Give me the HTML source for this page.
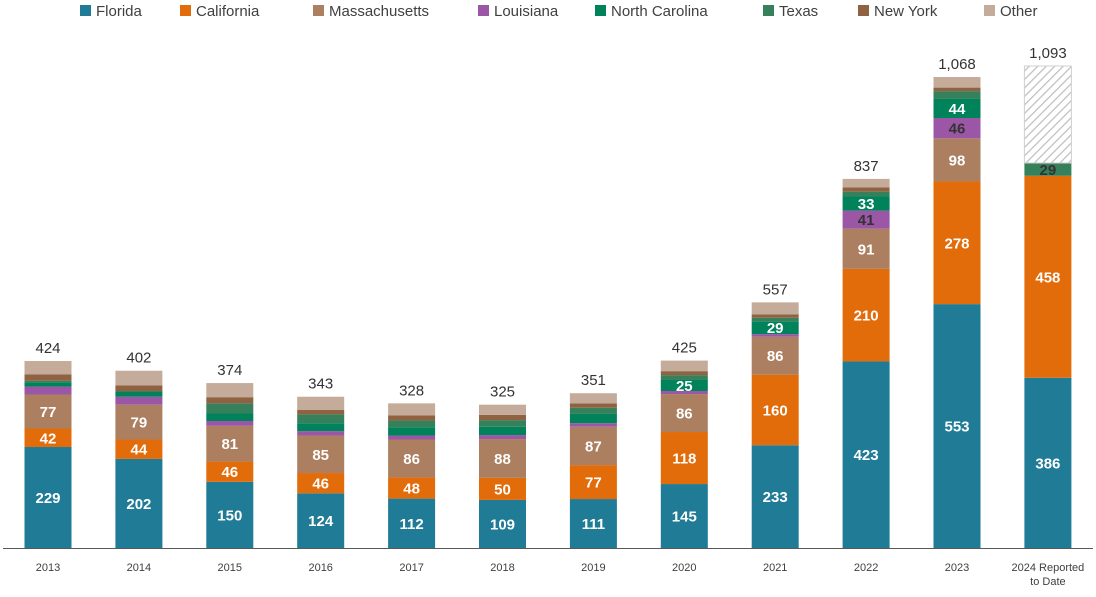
<!DOCTYPE html>
<html><head><meta charset="utf-8"><style>
body{margin:0;background:#fff;width:1096px;height:592px;overflow:hidden;font-family:"Liberation Sans",Arial,sans-serif}
</style></head><body>
<svg id="chart" width="1096" height="592" xmlns="http://www.w3.org/2000/svg">
<defs><pattern id="hatch" patternUnits="userSpaceOnUse" width="6" height="6" patternTransform="rotate(45)"><rect width="6" height="6" fill="#fff"/><line x1="0" y1="0" x2="0" y2="6" stroke="#bfbfbf" stroke-width="2.5"/></pattern></defs>
<g id="legend"></g>
<g id="bars"></g>
<line x1="3" y1="548.5" x2="1093" y2="548.5" stroke="#595959" stroke-width="1"/>
<g id="xlabels"></g>
</svg>
<script>
const categories=["2013","2014","2015","2016","2017","2018","2019","2020","2021","2022","2023","2024 Reported|to Date"];
const seriesNames=["Florida","California","Massachusetts","Louisiana","North Carolina","Texas","New York","Other"];
const florida=[229,202,150,124,112,109,111,145,233,423,553,386];
const california=[42,44,46,46,48,50,77,118,160,210,278,458];
const massachusetts=[77,79,81,85,86,88,87,86,86,91,98,0];
const louisiana=[18,18,11,10,9,9,8,7,6,41,46,0];
const northCarolina=[10,12,17,18,19,19,21,25,29,33,44,0];
const texas=[3,0,23,20,15,15,14,11,8,10,17,29];
const newYork=[15,14,14,10,12,12,10,9,8,10,8,0];
const other=[30,33,32,30,27,23,23,24,27,19,24,0];
const totals=[424,402,374,343,328,325,351,425,557,837,1068,1093];
const series=[florida,california,massachusetts,louisiana,northCarolina,texas,newYork,other];
const colors=["#1f7b96","#e36c0a","#ab7f5f","#9b57a5","#00825a","#36805b","#8f6341","#c5ac9a"];
const labelColors=["#fff","#fff","#fff","#333","#fff","#333","#fff","#fff"];
const NS="http://www.w3.org/2000/svg";
const baseY=548, k=0.441, x0=48, step=90.9, bw=47;
const yScale=v=>baseY-v*k;
const xScale=i=>x0+i*step;
function mk(tag,attrs,parent){const e=document.createElementNS(NS,tag);for(const a in attrs)e.setAttribute(a,attrs[a]);parent.appendChild(e);return e;}
const bars=document.getElementById('bars');
categories.forEach((c,i)=>{
  let cum=0;
  series.forEach((s,j)=>{
    const v=s[i]; if(!v)return;
    const y1=yScale(cum+v), y0=yScale(cum);
    const r=mk('rect',{x:xScale(i)-bw/2,y:y1,width:bw,height:y0-y1,fill:colors[j]},bars);
    
    
    if(v>=25 && j<7){
      const t=mk('text',{x:xScale(i),y:(y0+y1)/2+5.5,'text-anchor':'middle','font-size':15,'font-weight':'bold',fill:labelColors[j]},bars);
      t.textContent=v;
      
      
    }
    cum+=v;
  });
  if(cum<totals[i]){
    const h=mk('rect',{x:xScale(i)-bw/2,y:yScale(totals[i]),width:bw,height:yScale(cum)-yScale(totals[i]),fill:'url(#hatch)',stroke:'#d0d0d0','stroke-width':1},bars);
    
    
  }
  const t=mk('text',{x:xScale(i),y:yScale(totals[i])-8,'text-anchor':'middle','font-size':15,fill:'#333'},bars);
  t.textContent=totals[i].toLocaleString('en-US');
  
  
});
const xl=document.getElementById('xlabels');
categories.forEach((c,i)=>{
  c.split('|').forEach((ln,li)=>{
    const t=mk('text',{x:xScale(i),y:571+li*14,'text-anchor':'middle','font-size':11,fill:'#404040'},xl);
    t.textContent=ln;
    
    
  });
});
const lg=document.getElementById('legend');
const lx=[80,180,313,478,595,763,858,984];
seriesNames.forEach((n,j)=>{
  const r=mk('rect',{x:lx[j],y:5,width:11,height:11,fill:colors[j]},lg);
  
  
  const t=mk('text',{x:lx[j]+16,y:16,'font-size':15,fill:'#404040'},lg);
  t.textContent=n;
  
  
});
</script>
</body></html>
